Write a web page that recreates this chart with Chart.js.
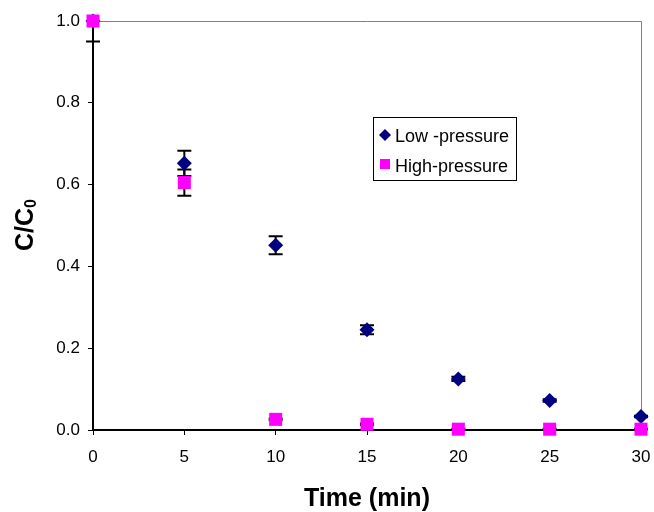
<!DOCTYPE html>
<html>
<head>
<meta charset="utf-8">
<script src="https://cdn.jsdelivr.net/npm/chart.js@4.4.0/dist/chart.umd.min.js"></script>
<style>
  html, body { margin: 0; padding: 0; background: #fff; }
  #wrap { width: 654px; height: 512px; }
</style>
</head>
<body>
<div id="wrap"><canvas id="chart" width="654" height="512"></canvas></div>
<script>
// data
const times = [0, 5, 10, 15, 20, 25, 30];
const lowPressure = [1.0, 0.652, 0.452, 0.245, 0.125, 0.072, 0.033];
const lowErr = [0.05, 0.031, 0.022, 0.011, 0.005, 0.003, 0.002];
const highPressure = [1.0, 0.605, 0.026, 0.014, 0.002, 0.002, 0.002];
const highErr = [0.0, 0.032, 0.002, 0.002, 0.001, 0.001, 0.001];
const xTicks = [0, 5, 10, 15, 20, 25, 30];
const yTicks = [0, 0.2, 0.4, 0.6, 0.8, 1.0];

const FONT = '"Liberation Sans", Arial, sans-serif';

function toPoints(ys) {
    return times.map((t, i) => ({ x: t, y: ys[i] }));
}

// error bars, drawn under the markers
const errorBars = {
    id: 'errorBars',
    beforeDatasetsDraw(chart) {
        const ctx = chart.ctx;
        const xs = chart.scales.x, ys = chart.scales.y;
        const sets = [[lowPressure, lowErr], [highPressure, highErr]];
        ctx.save();
        ctx.strokeStyle = '#000';
        ctx.lineWidth = 2;
        sets.forEach(([vals, errs]) => {
            vals.forEach((v, i) => {
                if (!errs[i]) return;
                const px = xs.getPixelForValue(times[i]);
                const top = ys.getPixelForValue(Math.min(v + errs[i], 1.0));
                const bot = ys.getPixelForValue(v - errs[i]);
                ctx.beginPath();
                ctx.moveTo(px, top); ctx.lineTo(px, bot);
                if (v + errs[i] <= 1.0) { ctx.moveTo(px - 7, top); ctx.lineTo(px + 7, top); }
                ctx.moveTo(px - 7, bot); ctx.lineTo(px + 7, bot);
                ctx.stroke();
            });
        });
        ctx.restore();
    }
};

// frame, titles and legend box
const decorations = {
    id: 'decorations',
    beforeDatasetsDraw(chart) {
        const ctx = chart.ctx;
        const a = chart.chartArea;
        ctx.save();
        ctx.strokeStyle = '#808080';
        ctx.lineWidth = 1;
        ctx.beginPath();
        ctx.moveTo(a.left, a.top + 0.5);
        ctx.lineTo(a.right + 0.5, a.top + 0.5);
        ctx.lineTo(a.right + 0.5, a.bottom);
        ctx.stroke();
        ctx.restore();
    },
    afterDraw(chart) {
        const ctx = chart.ctx;
        const a = chart.chartArea;
        ctx.save();
        ctx.fillStyle = '#000';

        // x title
        ctx.font = 'bold 25px ' + FONT;
        ctx.textAlign = 'center';
        ctx.textBaseline = 'alphabetic';
        ctx.fillText('Time (min)', (a.left + a.right) / 2, 506);

        // y title with subscript
        ctx.translate(33, 225);
        ctx.rotate(-Math.PI / 2);
        ctx.textAlign = 'left';
        const main = 'C/C';
        const w1 = ctx.measureText(main).width;
        ctx.font = 'bold 16px ' + FONT;
        const w2 = ctx.measureText('0').width;
        ctx.font = 'bold 25px ' + FONT;
        const start = -(w1 + w2) / 2;
        ctx.fillText(main, start, 0);
        ctx.font = 'bold 16px ' + FONT;
        ctx.fillText('0', start + w1, 3);
        ctx.restore();

        // legend
        ctx.save();
        const lx = 373, ly = 117, lw = 143, lh = 63;
        ctx.fillStyle = '#fff';
        ctx.fillRect(lx, ly, lw, lh);
        ctx.strokeStyle = '#000';
        ctx.lineWidth = 1;
        ctx.strokeRect(lx + 0.5, ly + 0.5, lw, lh);
        ctx.font = '18px ' + FONT;
        ctx.textBaseline = 'alphabetic';
        ctx.fillStyle = '#000';
        ctx.fillText('Low -pressure', lx + 22, ly + 25);
        ctx.fillText('High-pressure', lx + 22, ly + 55);
        ctx.fillStyle = '#000080';
        ctx.beginPath();
        ctx.moveTo(lx + 12, ly + 12); ctx.lineTo(lx + 18, ly + 18);
        ctx.lineTo(lx + 12, ly + 24); ctx.lineTo(lx + 6, ly + 18);
        ctx.closePath(); ctx.fill();
        ctx.fillStyle = '#ff00ff';
        ctx.fillRect(lx + 7, ly + 42, 10, 10);
        ctx.restore();
    }
};

new Chart(document.getElementById('chart'), {
    type: 'scatter',
    data: {
        datasets: [{
            label: 'Low -pressure',
            data: toPoints(lowPressure),
            order: 1,
            pointStyle: 'rectRot',
            pointRadius: 7.5,
            pointHoverRadius: 7.5,
            backgroundColor: '#000080',
            borderColor: '#000080',
            borderWidth: 0
        }, {
            label: 'High-pressure',
            data: toPoints(highPressure),
            order: 0,
            pointStyle: 'rect',
            pointRadius: 9.2,
            pointHoverRadius: 9.2,
            backgroundColor: '#ff00ff',
            borderColor: '#ff00ff',
            borderWidth: 0
        }]
    },
    options: {
        responsive: false,
        animation: false,
        clip: false,
        layout: { padding: { left: 0, right: 13, top: 21, bottom: 0 } },
        plugins: {
            legend: { display: false },
            tooltip: { enabled: false }
        },
        scales: {
            x: {
                type: 'linear',
                min: 0,
                max: 30,
                afterBuildTicks: (s) => { s.ticks = xTicks.map(v => ({ value: v })); },
                afterFit: (s) => { s.height = 82; s.paddingLeft = 0; s.paddingRight = 0; },
                ticks: {
                    color: '#000',
                    font: { family: FONT, size: 17 },
                    padding: 12,
                    maxRotation: 0
                },
                grid: { drawOnChartArea: false, tickLength: 5, color: '#000', tickWidth: 1 },
                border: { color: '#000', width: 2 }
            },
            y: {
                min: 0,
                max: 1,
                afterBuildTicks: (s) => { s.ticks = yTicks.map(v => ({ value: v })); },
                afterFit: (s) => { s.width = 93; s.paddingTop = 0; s.paddingBottom = 0; },
                ticks: {
                    color: '#000',
                    font: { family: FONT, size: 17 },
                    padding: 8,
                    callback: (v) => Number(v).toFixed(1)
                },
                grid: { drawOnChartArea: false, tickLength: 5, color: '#000', tickWidth: 1 },
                border: { color: '#000', width: 2 }
            }
        }
    },
    plugins: [errorBars, decorations]
});
</script>
</body>
</html>
